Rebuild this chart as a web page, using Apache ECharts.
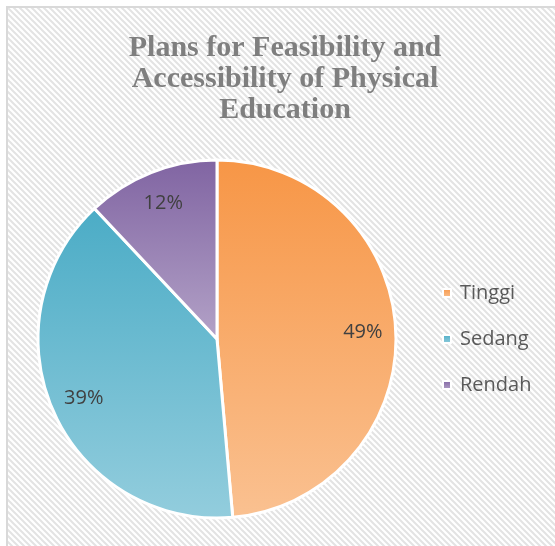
<!DOCTYPE html>
<html>
<head>
<meta charset="utf-8">
<script src="https://cdn.jsdelivr.net/npm/echarts@6/dist/echarts.min.js"></script>
<style>
html,body{margin:0;padding:0;background:#fff;overflow:hidden;}
#c{width:555px;height:546px;}
</style>
</head>
<body>
<div id="c"></div>
<script>
var categories = ['Tinggi', 'Sedang', 'Rendah'];
var values = [48.6, 39.4, 12.0];
var labels = ['49%', '39%', '12%'];
var titleText = 'Plans for Feasibility and\nAccessibility of Physical\nEducation';

var topColors = ['#F79646', '#4BACC6', '#8064A2'];
var bottomColors = ['#FAC191', '#93CDDD', '#B3A2C7'];

// hatch pattern
var pc = document.createElement('canvas');
pc.width = 6; pc.height = 6;
var g = pc.getContext('2d');
g.fillStyle = '#ffffff';
g.fillRect(0, 0, 6, 6);
g.strokeStyle = '#e3e3e3';
g.lineWidth = 2;
g.beginPath();
g.moveTo(-1, -1); g.lineTo(7, 7);
g.moveTo(-4, 2); g.lineTo(4, 10);
g.moveTo(2, -4); g.lineTo(10, 4);
g.stroke();

var chart = echarts.init(document.getElementById('c'));

var pieData = categories.map(function (n, i) {
  return {
    name: n,
    value: values[i],
    itemStyle: {
      color: {
        type: 'linear', x: 0, y: 0, x2: 0, y2: 1,
        colorStops: [{offset: 0, color: topColors[i]}, {offset: 1, color: bottomColors[i]}]
      }
    }
  };
});
var labelData = categories.map(function (n, i) {
  return { name: n, value: values[i], label: { formatter: labels[i] } };
});

chart.setOption({
  backgroundColor: '#ffffff',
  animation: false,
  graphic: [{
    type: 'rect',
    z: -10,
    silent: true,
    shape: { x: 7, y: 7, width: 560, height: 560 },
    style: { fill: { image: pc, repeat: 'repeat' }, stroke: '#d9d9d9', lineWidth: 2 }
  }],
  title: {
    text: titleText,
    left: 280,
    textAlign: 'center',
    top: 28,
    textStyle: {
      fontFamily: 'Liberation Serif',
      fontWeight: 'bold',
      fontSize: 30,
      lineHeight: 31,
      color: '#7f7f7f'
    }
  },
  legend: {
    orient: 'vertical',
    left: 442,
    top: 283,
    padding: 0,
    itemGap: 26,
    itemWidth: 8,
    itemHeight: 8,
    icon: 'rect',
    data: categories,
    textStyle: { fontFamily: 'Open Sans', fontSize: 20, color: '#595959', padding: [0, 0, 0, 4] }
  },
  series: [{
    type: 'pie',
    center: [217, 339],
    radius: [0, 179],
    startAngle: 90,
    clockwise: true,
    label: { show: false },
    labelLine: { show: false },
    itemStyle: { borderColor: '#ffffff', borderWidth: 3 },
    emphasis: { disabled: true },
    data: pieData
  }, {
    type: 'pie',
    center: [217, 339],
    radius: [110, 176],
    startAngle: 90,
    clockwise: true,
    silent: true,
    itemStyle: { color: 'rgba(0,0,0,0)' },
    label: {
      show: true,
      position: 'inside',
      fontFamily: 'Open Sans',
      fontSize: 20,
      color: '#404040'
    },
    labelLine: { show: false },
    emphasis: { disabled: true },
    data: labelData
  }]
});
</script>
</body>
</html>
